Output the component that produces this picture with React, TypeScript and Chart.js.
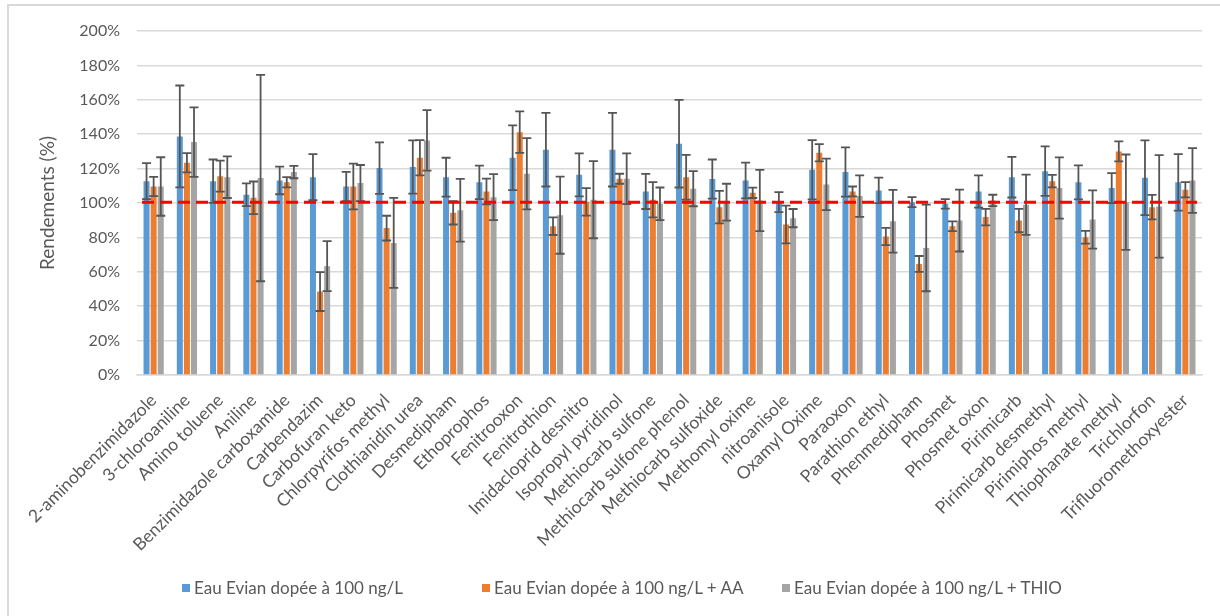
import React, { useEffect, useRef } from "react";
import { Chart, registerables } from "chart.js";

Chart.register(...registerables);

const categories = [
  "2-aminobenzimidazole",
  "3-chloroaniline",
  "Amino toluene",
  "Aniline",
  "Benzimidazole carboxamide",
  "Carbendazim",
  "Carbofuran keto",
  "Chlorpyrifos methyl",
  "Clothianidin urea",
  "Desmedipham",
  "Ethoprophos",
  "Fenitrooxon",
  "Fenitrothion",
  "Imidacloprid desnitro",
  "Isopropyl pyridinol",
  "Methiocarb sulfone",
  "Methiocarb sulfone phenol",
  "Methiocarb sulfoxide",
  "Methomyl oxime",
  "nitroanisole",
  "Oxamyl Oxime",
  "Paraoxon",
  "Parathion ethyl",
  "Phenmedipham",
  "Phosmet",
  "Phosmet oxon",
  "Pirimicarb",
  "Pirimicarb desmethyl",
  "Pirimiphos methyl",
  "Thiophanate methyl",
  "Trichlorfon",
  "Trifluoromethoxyester",
];

const seriesNames = [
  "Eau Evian dopée à 100 ng/L",
  "Eau Evian dopée à 100 ng/L + AA",
  "Eau Evian dopée à 100 ng/L + THIO",
];

const blueVals = [112.7, 138.7, 112.7, 104.8, 113.1, 115, 109.6, 120.3, 120.9, 115, 112, 126.3, 131, 116.4, 131, 106.7, 134.5, 113.9, 113.1, 100.5, 119.3, 118, 107.3, 100.5, 99.5, 106.7, 115, 118.5, 112, 108.7, 114.7, 112];
const blueErr = [10.5, 29.6, 12.6, 6.6, 8, 13.4, 8.5, 15, 15.5, 11.3, 9.7, 18.8, 21.4, 12.5, 21.4, 10.2, 25.5, 11.4, 10.4, 5.8, 17.2, 14.3, 7.4, 2.9, 2.8, 9.4, 11.8, 14.4, 9.9, 8.7, 21.7, 16.4];
const orangeVals = [109.6, 123.4, 115.6, 103, 112.1, 48.5, 109.6, 85.4, 126.3, 94.3, 106.7, 141.2, 86.5, 100.7, 114.1, 101.9, 115, 97.6, 105.9, 87.5, 129.2, 106.7, 80.5, 64.6, 86.5, 91.8, 89.8, 112.7, 80.1, 130, 97.6, 107.7];
const orangeErr = [5.6, 5.6, 9, 9.5, 3, 11.3, 13.3, 7.2, 10.2, 6.8, 7.5, 12.1, 5.1, 8, 2.9, 10.2, 13, 9.4, 3, 11, 5, 2.9, 5, 4.6, 2.8, 4.8, 6.8, 3.6, 3.7, 5.8, 7.1, 4.4];
const grayVals = [109.6, 135.4, 115, 114.5, 118, 63.3, 111.6, 76.8, 136.4, 95.8, 103.4, 117, 92.9, 101.9, 114.1, 99.5, 108.3, 100.5, 101.5, 91.2, 110.8, 104, 89.4, 73.9, 89.8, 101.5, 99, 108.7, 90.4, 100.5, 98, 113.1];
const grayErr = [17, 20.2, 12.1, 60, 3.6, 14.5, 10.5, 26.2, 17.6, 18.2, 13.4, 20.7, 22.4, 22.4, 14.8, 9.5, 10.2, 10.7, 17.8, 5.3, 15, 12.1, 18.2, 25.2, 18, 3.3, 17.5, 17.8, 16.9, 27.7, 29.8, 18.8];

const refLineValue = 100.5;
const yMin = 0;
const yMax = 200;
const yStep = 20;

const colors = ["#5B9BD5", "#ED7D31", "#A5A5A5"];
const FONT = "Lato, 'Open Sans', sans-serif";
const TEXT = "#595959";

export default function App() {
  const ref = useRef<HTMLCanvasElement>(null);

  useEffect(() => {
    const canvas = ref.current;
    if (!canvas) return;
    const errs = [blueErr, orangeErr, grayErr];

    const overlay = {
      id: "errAndRef",
      afterDatasetsDraw(chart: any) {
        const ctx = chart.ctx;
        const y = chart.scales.y;
        ctx.save();
        ctx.strokeStyle = "#555555";
        ctx.lineWidth = 1.8;
        chart.data.datasets.forEach((ds: any, i: number) => {
          const meta = chart.getDatasetMeta(i);
          meta.data.forEach((el: any, j: number) => {
            const v = ds.data[j];
            const e = errs[i][j];
            const x = el.x;
            const t = y.getPixelForValue(v + e);
            const b = y.getPixelForValue(v - e);
            ctx.beginPath();
            ctx.moveTo(x, t);
            ctx.lineTo(x, b);
            ctx.moveTo(x - 4.5, t);
            ctx.lineTo(x + 4.5, t);
            ctx.moveTo(x - 4.5, b);
            ctx.lineTo(x + 4.5, b);
            ctx.stroke();
          });
        });
        const py = y.getPixelForValue(refLineValue);
        ctx.strokeStyle = "#FF0000";
        ctx.lineWidth = 3;
        ctx.setLineDash([12, 6]);
        ctx.beginPath();
        ctx.moveTo(chart.chartArea.left + 5, py);
        ctx.lineTo(chart.chartArea.right - 5, py);
        ctx.stroke();
        ctx.restore();
      },
    };

    const chart = new Chart(canvas, {
      type: "bar",
      data: {
        labels: categories,
        datasets: [blueVals, orangeVals, grayVals].map((d, i) => ({
          label: seriesNames[i],
          data: d,
          backgroundColor: colors[i],
          borderWidth: 0,
          categoryPercentage: 0.64,
          barPercentage: 0.85,
        })),
      },
      options: {
        animation: false,
        responsive: false,
        maintainAspectRatio: false,
        layout: { padding: { left: 0, right: 18, top: 31, bottom: 61 } },
        plugins: {
          legend: { display: false },
          tooltip: { enabled: false },
        },
        scales: {
          x: {
            grid: { display: false },
            border: { display: true, color: "#D9D9D9", width: 1.5 },
            ticks: {
              autoSkip: false,
              minRotation: 45,
              maxRotation: 45,
              padding: 7,
              color: TEXT,
              font: { family: FONT, size: 17.5 },
            },
            afterFit(scale: any) {
              scale.height = 180;
            },
          },
          y: {
            min: yMin,
            max: yMax,
            ticks: {
              stepSize: yStep,
              padding: 17,
              color: TEXT,
              font: { family: FONT, size: 16 },
              callback: (v: any) => v + "%",
            },
            grid: { color: "#D9D9D9", lineWidth: 1.5, drawTicks: false },
            border: { display: false },
            title: {
              display: true,
              text: "Rendements (%)",
              color: TEXT,
              font: { family: FONT, size: 19 },
              padding: { top: 36, bottom: 0 },
            },
            afterFit(scale: any) {
              scale.width = 137;
            },
          },
        },
      },
      plugins: [overlay],
    });
    return () => chart.destroy();
  }, []);

  return (
    <div style={{ position: "fixed", left: 0, top: 0, width: 1220, height: 616, background: "#fff", overflow: "hidden" }}>
      <div style={{ position: "absolute", left: 7, top: 4, right: 0, height: 1.5, background: "#D9D9D9" }} />
      <div style={{ position: "absolute", left: 7, top: 4, bottom: 0, width: 1.5, background: "#D9D9D9" }} />
      <canvas ref={ref} width={1220} height={616} style={{ position: "absolute", left: 0, top: 0, width: 1220, height: 616 }} />
      <div style={{ position: "absolute", left: 182, top: 577, display: "flex", fontFamily: FONT, fontSize: 17, color: TEXT }}>
        {seriesNames.map((n, i) => (
          <div key={n} style={{ width: 300, display: "flex", alignItems: "center", whiteSpace: "nowrap" }}>
            <span style={{ display: "inline-block", width: 8, height: 8, background: colors[i], marginRight: 4 }} />
            <span>{n}</span>
          </div>
        ))}
      </div>
    </div>
  );
}
